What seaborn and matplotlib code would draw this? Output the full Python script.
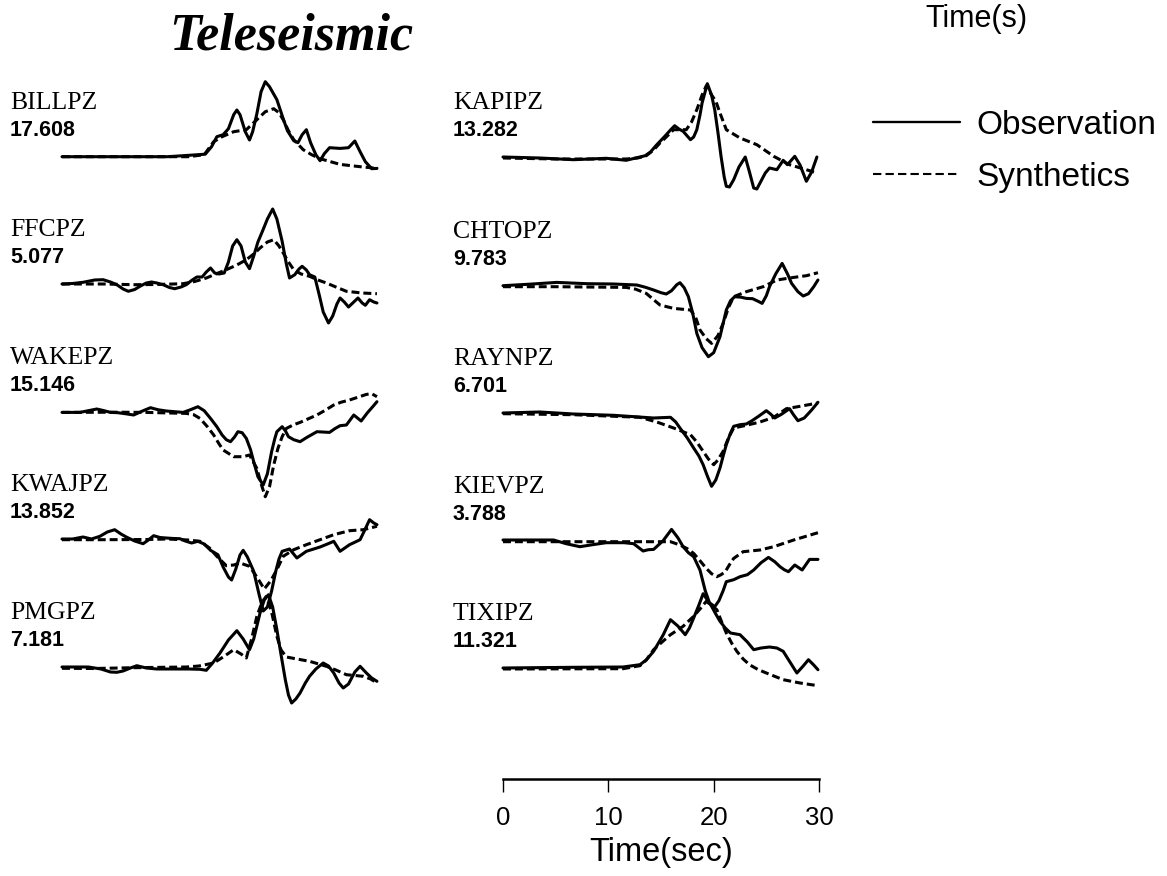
import matplotlib
matplotlib.use('Agg')
import matplotlib.pyplot as plt
import seaborn as sns
import pandas as pd
from matplotlib.lines import Line2D

# Waveforms: (time in s, amplitude relative to baseline)
BILLPZ_OBS = [(0, 0), (10, 0), (11.5, 1), (13.6, 2.5), (14.2, 10), (14.7, 20), (15.3, 22), (15.8, 28), (16.3, 42),
              (16.6, 46.7), (16.9, 42), (17.4, 25), (17.8, 16.7), (18.1, 25), (18.5, 43), (18.9, 65), (19.3, 75),
              (19.7, 70), (20.4, 57), (21.0, 38), (21.4, 26), (22.0, 16), (22.4, 14), (22.8, 22), (23.2, 27),
              (23.6, 14), (24.1, 2), (24.5, -4), (24.9, 3), (25.4, 9), (26.4, 8.3), (27.2, 9), (27.8, 15.7),
              (28.3, 5), (28.8, -5), (29.4, -12), (29.9, -11.7)]
BILLPZ_SYN = [(0, 0), (12, 0), (13.5, 2), (14.4, 15), (15.2, 20), (16.3, 25), (17.5, 27), (18.5, 37), (19.3, 45),
              (20.1, 48), (20.6, 44), (21, 37), (21.5, 26), (22, 17), (22.9, 7), (23.7, 2), (24.5, -2), (25.5, -5),
              (26.4, -7.7), (28.3, -10), (30, -11.7)]

FFCPZ_OBS = [(0, 0), (1, 0.5), (2, 1.7), (3.1, 4), (3.9, 4.3), (4.6, 2), (5.2, -0.7), (5.8, -5), (6.3, -7.3),
             (6.9, -5.5), (7.4, -2.3), (8, 1), (8.5, 2), (9, 1), (9.6, -0.7), (10.2, -3.5), (10.7, -4.7), (11.3, -3),
             (11.8, -0.7), (12.3, 3.5), (12.8, 7), (13.3, 7), (13.7, 12), (14.1, 16), (14.5, 11), (14.9, 10),
             (15.4, 11), (15.8, 22), (16.2, 38), (16.6, 44.3), (17, 38), (17.4, 22), (17.8, 15.3), (18.2, 28),
             (18.6, 42), (19, 52), (19.5, 65), (20, 75), (20.4, 65), (20.9, 42.7), (21.3, 20), (21.6, 6),
             (22.1, 9.3), (22.5, 15), (22.8, 17.7), (23.2, 14), (23.5, 9.3), (24, 7), (24.4, -10), (24.8, -28),
             (25.3, -39), (25.7, -32), (26.1, -20), (26.4, -14), (26.8, -18), (27.2, -23), (27.7, -18),
             (28.1, -14), (28.5, -19), (28.8, -21.3), (29.2, -15.7), (29.6, -18), (29.9, -19)]
FFCPZ_SYN = [(0, 0), (4, 0), (6.8, -0.7), (9, -0.5), (11.5, 0.3), (12.6, 2.5), (13.7, 6), (14.6, 10), (15.6, 14.3),
             (16.6, 19), (17.5, 24.3), (18.2, 30), (18.8, 36), (19.5, 42), (20.1, 44.3), (20.6, 38), (21, 31),
             (21.5, 22), (22, 14.3), (22.7, 10), (23.5, 7.7), (24.3, 4), (25.1, 1), (26, -3), (27, -7.3),
             (28.5, -9), (29.9, -9.7)]

WAKEPZ_OBS = [(0, -0.7), (1.7, -0.7), (2.5, 1), (3.3, 2.7), (4, 1), (4.6, -0.7), (5.3, -1), (6, -2), (6.8, -3.3),
              (7.6, 0.5), (8.4, 4), (9.1, 2), (9.9, 0.7), (10.7, 0), (11.5, -0.7), (12.2, 2), (12.9, 5), (13.5, 1),
              (14.1, -6.7), (14.7, -15), (15.2, -23.3), (15.6, -28), (16, -30), (16.4, -25), (16.7, -20),
              (17.1, -21), (17.5, -26.7), (17.9, -38), (18.2, -50), (18.6, -65), (19.1, -73.3), (19.5, -62),
              (19.9, -40), (20.2, -27), (20.4, -20), (20.9, -15), (21.2, -19), (21.5, -25), (22, -28),
              (22.6, -30), (23.2, -26), (24.2, -20), (25.4, -20.7), (25.9, -17), (26.4, -14), (27, -13.3),
              (27.7, -3.3), (28.4, -9.3), (29, -1), (29.5, 5), (29.9, 10)]
WAKEPZ_SYN = [(0, -0.7), (5, -0.5), (8, -0.7), (11.8, -1.7), (12.5, -3), (13.1, -6.7), (13.8, -15), (14.4, -23.3),
              (14.9, -32), (15.3, -38.3), (16.3, -45), (17.2, -45), (17.8, -43.3), (18.5, -56.7), (18.9, -72),
              (19.3, -85), (19.7, -75), (20.1, -53.3), (20.5, -36.7), (20.9, -25), (21.3, -16.7), (22, -13),
              (22.6, -10.7), (23.4, -7), (24.2, -3.3), (25, 1.5), (25.8, 6.7), (26.5, 9.5), (27.3, 11.7),
              (28.1, 14.5), (28.9, 17.3), (29.4, 18), (29.9, 15)]

KWAJPZ_OBS = [(0, 0), (1, 0), (2, 2), (2.8, 0), (3.6, 2.7), (4.3, 7), (5, 9.3), (5.6, 5), (6.1, 2), (6.9, -2),
              (7.7, -4.7), (8.2, -1), (8.7, 3.3), (9.3, 1.5), (9.9, 1), (10.6, 0.5), (11.2, 0.3), (11.7, -2),
              (12.3, -4), (12.9, -2.3), (13.5, -5), (14.1, -11.3), (14.8, -15.7), (15.3, -28), (15.8, -38),
              (16.1, -41), (16.5, -30), (16.9, -16), (17.2, -11.3), (17.6, -18), (18.2, -32.3), (18.7, -55),
              (19.1, -72), (19.5, -68), (19.9, -52), (20.3, -32), (20.6, -20), (20.9, -12.3), (21.6, -10),
              (22.3, -19), (23.2, -12.3), (24.5, -8), (25.2, -5), (25.8, -2.3), (26.4, -12.3), (27.3, -5.7),
              (28.3, -0.7), (28.7, 8), (29.2, 19.3), (29.6, 16), (29.9, 14.3)]
KWAJPZ_SYN = [(0, -0.7), (4, -0.7), (8, -0.5), (10, 0), (12, -1), (13.1, -2.3), (14, -9), (14.7, -17.3),
              (15.6, -26.7), (16.3, -26), (16.9, -24), (17.8, -27.3), (18.5, -38), (19.2, -50), (19.8, -42),
              (20.4, -30.7), (21, -17.3), (22, -10.7), (23.2, -5.7), (24.5, -0.7), (25.8, 4.3), (27.3, 8.3),
              (28.6, 9.3), (29.9, 12.7)]

PMGPZ_OBS = [(0, 0), (2.5, 0), (3.7, -2), (4.6, -5), (5.2, -5.3), (5.8, -4), (6.5, -1), (7.1, 1.3), (8, -1),
             (9, -2), (10.5, -2), (12, -2), (13.1, -2.3), (13.7, -3.3), (14.3, 4), (15, 14), (15.8, 27),
             (16.6, 36.3), (17.2, 28), (17.8, 17.3), (18.2, 28), (18.8, 54), (19.2, 67), (19.6, 72.3), (20, 60),
             (20.4, 37.3), (20.8, 12), (21.2, -12.7), (21.5, -28), (21.8, -36), (22.2, -32), (22.6, -26),
             (23.1, -16), (23.5, -9.3), (24.1, -2), (24.8, 4), (25.3, 1), (25.8, -6), (26.3, -16), (26.7, -21),
             (27.2, -17), (27.8, -5), (28.3, 0.7), (28.9, -6), (29.4, -11), (29.9, -14.3)]
PMGPZ_SYN = [(0, -1.3), (3, -1.5), (6.8, -0.7), (11.8, 0), (13, 1), (14.4, 4), (15.3, 10), (16.3, 17.3), (17, 13),
             (17.5, 9), (18, 28), (18.5, 50.7), (19, 65), (19.4, 70.7), (19.9, 55), (20.4, 30.7), (20.8, 17),
             (21.3, 10), (22.3, 8), (23.5, 5.7), (25.1, 0.7), (26, -3), (27, -7.7), (28.6, -9.3), (29.3, -12),
             (29.9, -16)]

KAPIPZ_OBS = [(0, 0), (3.5, -1), (6.7, -2.7), (9.8, -1.3), (11.7, -3.3), (12.6, -1), (13.5, 1.3), (14, 5),
              (14.6, 12.3), (15.3, 20), (15.9, 27), (16.3, 31.3), (16.7, 28), (17.1, 25.7), (17.8, 17.3),
              (18.1, 20), (18.4, 27.3), (18.7, 42), (18.9, 54), (19.4, 73.3), (19.8, 62), (20.1, 47.3),
              (20.4, 25), (20.7, 0.7), (21, -20), (21.2, -29.3), (21.5, -30), (21.9, -22.7), (22.4, -10), (23, 0),
              (23.4, -15), (23.8, -31), (24.1, -32), (24.4, -26), (24.9, -16), (25.3, -11), (26, -12.7),
              (26.6, -3.3), (27, -7.7), (27.7, 0.7), (28.2, -8), (28.8, -24.3), (29.3, -15), (29.8, 0)]
KAPIPZ_SYN = [(0, -1), (5, -2), (11.7, -2), (12.8, -1), (13.6, 1.3), (14.3, 7), (14.9, 14), (15.5, 20),
              (16.2, 27.3), (17.4, 27.3), (17.9, 35), (18.4, 47.3), (18.9, 62), (19.3, 71.3), (19.8, 62),
              (20.2, 56), (20.6, 44), (21.2, 27.3), (22.5, 19), (24.1, 12.3), (25.7, 0.7), (27.2, -7.7),
              (28.8, -12.7), (29.8, -16)]

CHTOPZ_OBS = [(0, 0), (2.5, 1.5), (5.1, 3.3), (8, 2), (10.5, 1.7), (12.7, 0.7), (13.5, -1.5), (14.3, -4.3),
              (15, -7), (15.5, -8.3), (16, -5), (16.5, 1), (16.8, 3), (17.2, -2), (17.6, -11), (18, -27),
              (18.4, -47.7), (18.9, -62), (19.5, -71), (20, -67), (20.6, -51), (21.2, -24.3), (21.6, -15),
              (22, -11), (22.6, -11.5), (23.1, -12.7), (23.7, -13), (24.3, -16), (24.6, -17.7), (25, -10),
              (25.3, -1), (25.9, 12), (26.5, 22.3), (27, 12), (27.4, 2.3), (28, -6), (28.5, -10.3), (29, -8),
              (29.5, -1), (29.9, 5.7)]
CHTOPZ_SYN = [(0, -1), (5, -1), (11.7, -1.7), (12.6, -3.5), (13.6, -7.7), (14.3, -14), (14.9, -19.3),
              (16.2, -22.7), (17.8, -24.3), (18.3, -32), (18.7, -44.3), (19.3, -53), (19.8, -57.7), (20.4, -50),
              (20.9, -37.7), (21.4, -22), (21.9, -11), (23.1, -6), (24.7, -1), (26, 5.7), (27.6, 8.3),
              (28.8, 10), (29.9, 13)]

RAYNPZ_OBS = [(0, 0), (3.5, 1), (6.7, -1), (10.5, -2.3), (14.3, -5), (15.9, -4.3), (16.4, -9), (16.8, -15),
              (17.5, -25), (18.1, -35), (18.6, -43), (19, -51.7), (19.4, -63), (19.8, -73.3), (20.2, -67),
              (20.6, -55), (20.9, -43), (21.2, -31.7), (21.6, -20), (21.9, -13.3), (22.5, -11.7), (23.1, -11),
              (23.6, -8), (24.3, -3), (25, 2.3), (25.4, -1), (25.8, -5), (26.4, -1.5), (27.2, 4.3), (27.6, -2),
              (28, -7.7), (28.6, -5), (29.3, 3), (29.9, 10.7)]
RAYNPZ_SYN = [(0, -0.7), (6.7, -1.7), (13, -4.3), (14.6, -9), (16.2, -15), (17.8, -21.7), (18.4, -29),
              (19, -38.3), (19.5, -46), (20, -51.7), (20.4, -47), (20.9, -38.3), (21.4, -25), (21.9, -15),
              (23.1, -12.3), (24.4, -9), (25.7, -4.3), (26.3, 0), (26.9, 4.3), (28.2, 6.7), (29.9, 10)]

KIEVPZ_OBS = [(0, 0.7), (2.5, 0.7), (4.8, 0.7), (6, -3), (7.3, -6), (8.5, -4), (9.8, -2), (11.5, -2),
              (12.4, -3), (13.3, -10.3), (13.8, -9), (14.3, -8.7), (15.2, 0), (16, 11.3), (16.6, 3), (17.1, -6),
              (17.6, -12), (18.1, -16), (18.7, -29.3), (19.2, -50), (19.6, -62), (20.1, -66), (20.5, -60),
              (20.9, -50), (21.2, -41), (21.9, -39), (22.5, -36), (23.2, -34), (23.8, -29.3), (24.5, -22),
              (25.2, -16.7), (25.8, -21), (26.3, -26), (26.7, -29), (27.1, -31), (27.7, -24.3), (28.4, -29.3),
              (29.1, -18.7), (29.9, -18.7)]
KIEVPZ_SYN = [(0, -1), (15.9, -1), (16.8, -4.3), (17.5, -8), (18.1, -12.7), (18.7, -20), (19.3, -27.7),
              (19.8, -33), (20.3, -36), (20.7, -34), (21.1, -31), (21.5, -24), (21.9, -17.7), (22.8, -11),
              (24.4, -9.3), (25.7, -6), (27.6, 0.7), (29.9, 8)]

TIXIPZ_OBS = [(0, 0), (6.7, 0.7), (11.4, 1), (13, 3.3), (13.6, 8), (14.3, 16.7), (15.2, 33), (15.9, 48.3),
              (16.6, 42), (17.3, 33.3), (17.7, 40), (18.1, 50), (18.6, 63), (19, 74.3), (19.4, 68), (19.8, 61.7),
              (20.2, 54), (20.6, 46.7), (21.1, 40), (21.6, 35), (22.5, 33.3), (23.2, 26), (23.8, 18.3),
              (24.5, 20), (25.3, 21), (26, 20), (26.6, 16.7), (27.3, 5), (27.9, -5), (28.5, 2), (29, 8.3),
              (29.5, 3), (29.9, -1.7)]
TIXIPZ_SYN = [(0, -1), (11.4, -0.7), (13, 2.3), (13.6, 8), (14.3, 18.3), (15.1, 26), (15.9, 33.3), (17.1, 41.7),
              (18.1, 51.7), (18.7, 59), (19.3, 66.7), (20.3, 58.3), (20.8, 45), (21.2, 35), (21.7, 25),
              (22.2, 16.7), (22.8, 9), (23.4, 3.3), (24.2, -1.5), (25, -5), (26.6, -11.7), (28.2, -15),
              (29.9, -17.7)]

STATIONS = ['BILLPZ', 'FFCPZ', 'WAKEPZ', 'KWAJPZ', 'PMGPZ', 'KAPIPZ', 'CHTOPZ', 'RAYNPZ', 'KIEVPZ', 'TIXIPZ']
PEAK_AMPS = ['17.608', '5.077', '15.146', '13.852', '7.181', '13.282', '9.783', '6.701', '3.788', '11.321']
OBSERVED = [BILLPZ_OBS, FFCPZ_OBS, WAKEPZ_OBS, KWAJPZ_OBS, PMGPZ_OBS,
            KAPIPZ_OBS, CHTOPZ_OBS, RAYNPZ_OBS, KIEVPZ_OBS, TIXIPZ_OBS]
SYNTHETIC = [BILLPZ_SYN, FFCPZ_SYN, WAKEPZ_SYN, KWAJPZ_SYN, PMGPZ_SYN,
             KAPIPZ_SYN, CHTOPZ_SYN, RAYNPZ_SYN, KIEVPZ_SYN, TIXIPZ_SYN]
TIME_TICKS = [0, 10, 20, 30]

# layout in pixels
W, H = 1167, 876
COL_X = [62, 503]
LABEL_X = [10, 453]
BASE_Y = [156.7, 284, 411.7, 539, 667, 157, 285.7, 413, 540.7, 668]
TRACE_W = 316
HALF_H = 100

sns.set_style('white')
plt.rcParams['font.family'] = ['Liberation Sans', 'DejaVu Sans']
plt.rcParams['text.color'] = 'black'
plt.rcParams['axes.labelcolor'] = 'black'
plt.rcParams['xtick.color'] = 'black'

fig = plt.figure(figsize=(W / 100, H / 100), dpi=100)

for i, name in enumerate(STATIONS):
    col = i // 5
    y0 = BASE_Y[i]
    ax = fig.add_axes([COL_X[col] / W, (H - y0 - HALF_H) / H, TRACE_W / W, 2 * HALF_H / H])
    df_obs = pd.DataFrame(OBSERVED[i], columns=['t', 'amp'])
    df_syn = pd.DataFrame(SYNTHETIC[i], columns=['t', 'amp'])
    sns.lineplot(data=df_syn, x='t', y='amp', ax=ax, color='black', lw=2.2,
                 linestyle=(0, (2.6, 1.3)), estimator=None, sort=False, clip_on=False)
    sns.lineplot(data=df_obs, x='t', y='amp', ax=ax, color='black', lw=2.2,
                 estimator=None, sort=False, clip_on=False)
    ax.set_xlim(0, 30)
    ax.set_ylim(-HALF_H, HALF_H)
    ax.axis('off')

    fig.text(LABEL_X[col] / W, 1 - (y0 - 48) / H, name, family='Liberation Serif',
             fontsize=18.5, va='baseline', ha='left')
    fig.text(LABEL_X[col] / W, 1 - (y0 - 21) / H, PEAK_AMPS[i], fontweight='bold',
             fontsize=15.5, va='baseline', ha='left')

# time scale bar
ax_t = fig.add_axes([COL_X[1] / W, (H - 779.3) / H, TRACE_W / W, 0.0005])
ax_t.set_xlim(0, 30)
ax_t.set_xticks(TIME_TICKS)
ax_t.set_yticks([])
for side in ['top', 'left', 'right']:
    ax_t.spines[side].set_visible(False)
ax_t.spines['bottom'].set_linewidth(1.8)
ax_t.spines['bottom'].set_color('black')
ax_t.tick_params(axis='x', direction='out', length=9, width=1, color='black',
                 pad=10, labelsize=18.5, bottom=True)
ax_t.set_xlabel('Time(sec)', fontsize=23.5, labelpad=5)
ax_t.patch.set_alpha(0)

# title and legend
fig.text(291.5 / W, 1 - 50 / H, 'Teleseismic', family='Liberation Serif', fontweight='bold',
         fontstyle='italic', fontsize=37.5, ha='center', va='baseline')
fig.text(976 / W, 1 - 27 / H, 'Time(s)', fontsize=22, ha='center', va='baseline')

handles = [Line2D([], [], color='black', lw=1.7),
           Line2D([], [], color='black', lw=1.5, linestyle=(0, (4, 2)))]
fig.legend(handles, ['Observation', 'Synthetics'], loc='upper left',
           bbox_to_anchor=(873 / W, 1 - 110 / H), frameon=False, fontsize=24,
           handlelength=2.6, handletextpad=0.5, labelspacing=0.62,
           borderpad=0, borderaxespad=0)

fig.savefig('out.png', dpi=100)
